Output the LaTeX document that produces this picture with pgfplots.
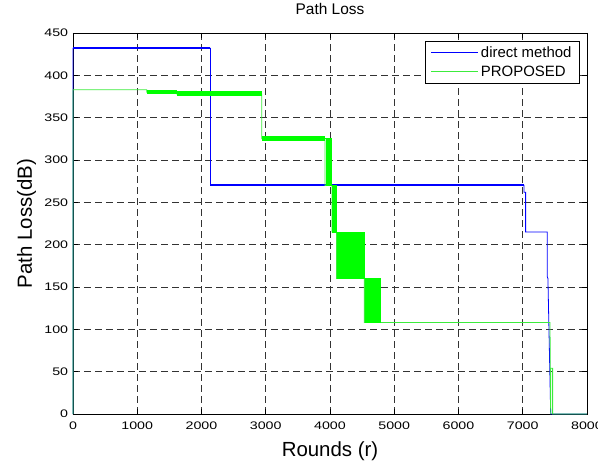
\documentclass[border=0pt]{standalone}
\usepackage{fontspec}
\setmainfont{Liberation Sans}
\newfontfamily\tickfam{Liberation Sans}[FakeStretch=1.3]
\usepackage{pgfplots}
\pgfplotsset{compat=1.18}
\definecolor{mblue}{RGB}{0,0,255}
\definecolor{mgreen}{RGB}{0,255,0}
\definecolor{lgreen}{RGB}{60,235,60}
\begin{document}
\begin{tikzpicture}
\useasboundingbox (-73bp,-50bp) rectangle (525bp,414bp);
\begin{axis}[
  at={(0,0)}, anchor=south west,
  width=514bp, height=381bp, scale only axis,
  xmin=0, xmax=8000, ymin=0, ymax=450,
  xtick={0,1000,...,8000}, ytick={0,50,...,450},
  scaled x ticks=false, scaled y ticks=false,
  /pgf/number format/assume math mode=true,
  /pgf/number format/1000 sep={},
  tick label style={font=\tickfam\fontsize{11}{11}\selectfont},
  xticklabel style={anchor=north, inner sep=0pt, yshift=-7.5bp},
  yticklabel style={anchor=east, inner sep=0pt, xshift=-4.7bp},
  tick align=inside, major tick length=5bp,
  xtick pos=both, ytick pos=both,
  tick style={black, line width=0.5bp},
  axis line style={black, line width=0.7bp},
  grid=major,
  major grid style={black!80, line width=0.5bp, dash pattern=on 7bp off 4bp},
  title={Path Loss},
  title style={at={(axis description cs:0.5,1.0341)}, anchor=base, font=\fontsize{15.5}{15.5}\selectfont, inner sep=0pt},
  xlabel={Rounds (r)},
  xlabel style={at={(axis description cs:0.5,-0.1121)}, anchor=base, font=\fontsize{20.5}{20.5}\selectfont, inner sep=0pt},
  ylabel={Path Loss(dB)},
  ylabel style={at={(axis description cs:-0.0798,0.5)}, anchor=base, rotate=0, font=\fontsize{20.5}{20.5}\selectfont, inner sep=0pt},
  clip=false,
  legend image code/.code={\draw[#1] (0bp,0bp) -- (47bp,0bp);},
  legend cell align=left,
  legend style={at={(axis description cs:0.985,0.98)}, anchor=north east,
    draw=black, line width=0.6bp, fill=white,
    font=\fontsize{15}{15}\selectfont,
    inner xsep=5bp, inner ysep=3bp, row sep=2bp,
    nodes={inner sep=2.5bp}},
]
% direct method
\addplot[mblue, line width=0.8bp] coordinates {
  (0,0) (0,432) (2140,432) (2140,270) (7020,270) (7020,262) (7045,262)
  (7045,215) (7382,215) (7382,162) (7392,160) (7435,0) (8000,0)};
\addlegendentry{direct method}
\addplot[mblue, line width=1.8bp, forget plot] coordinates {(0,432.5) (2140,432.5)};
\addplot[mblue, line width=1.8bp, forget plot] coordinates {(2140,270.5) (7020,270.5)};
% PROPOSED
\addplot[lgreen, line width=0.8bp] coordinates {
  (0,0) (0,383) (1147,383) (1147,380) (1614,380) (1614,378) (2937,378)
  (2937,325) (3922,325) (3922,270) (4030,270) (4030,215) (4100,215)
  (4100,160) (4535,160) (4535,108) (7424,108) (7435,0) (7435,54)
  (7465,54) (7465,0) (8000,0)};
\addlegendentry{PROPOSED}
\addplot[mgreen, line width=4.2bp, forget plot] coordinates {(1147,380.5) (1614,380.5)};
\addplot[mgreen, line width=4.2bp, forget plot] coordinates {(1614,378.5) (2937,378.5)};
\addplot[mgreen, line width=5bp, forget plot] coordinates {(2937,325) (3922,325)};
\addplot[mgreen, line width=0.8bp, const plot, forget plot] table {
x y
3922 325
3937 270
3952 325
3967 270
3982 325
3997 270
4012 325
4026 270
4030 270
};
\addplot[mgreen, line width=0.8bp, const plot, forget plot] table {
x y
4030 270
4045 215
4060 270
4075 215
4090 270
4100 215
};
\addplot[mgreen, line width=0.8bp, const plot, forget plot] table {
x y
4100 215
4115 160
4130 215
4145 160
4160 215
4175 160
4190 215
4205 160
4220 215
4235 160
4250 215
4265 160
4280 215
4295 160
4310 215
4325 160
4340 215
4355 160
4370 215
4385 160
4400 215
4415 160
4430 215
4445 160
4460 215
4475 160
4490 215
4505 160
4520 215
4535 160
};
\addplot[mgreen, line width=0.8bp, const plot, forget plot] table {
x y
4535 160
4550 108
4565 160
4580 108
4595 160
4610 108
4625 160
4640 108
4655 160
4670 108
4685 160
4700 108
4715 160
4730 108
4745 160
4760 108
4775 160
4778 108
};
\end{axis}
\end{tikzpicture}
\end{document}
